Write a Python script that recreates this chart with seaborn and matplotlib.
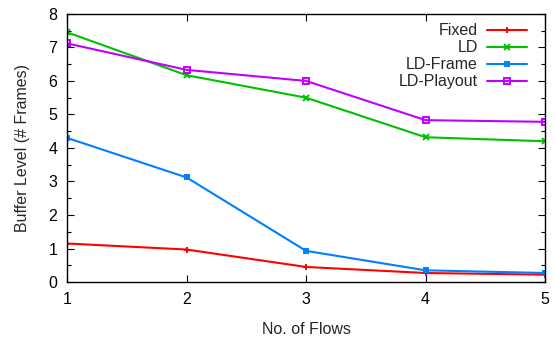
import matplotlib
matplotlib.use("Agg")
import matplotlib.pyplot as plt
from matplotlib.ticker import MultipleLocator
from matplotlib.lines import Line2D
import seaborn as sns
import pandas as pd

flows = [1, 2, 3, 4, 5]
fixed = [1.15, 0.97, 0.45, 0.27, 0.22]
ld = [7.45, 6.17, 5.50, 4.32, 4.20]
ld_frame = [4.30, 3.12, 0.93, 0.35, 0.27]
ld_playout = [7.12, 6.33, 6.00, 4.83, 4.78]
series_names = ["Fixed", "LD", "LD-Frame", "LD-Playout"]

sns.set_theme(style="ticks")
plt.rcParams["font.family"] = ["Liberation Sans", "DejaVu Sans"]

palette = {"Fixed": "#ff0000", "LD": "#00c000", "LD-Frame": "#0080ff", "LD-Playout": "#c000ff"}
markers = {"Fixed": "+", "LD": "x", "LD-Frame": "s", "LD-Playout": "s"}
msizes = {"Fixed": 4, "LD": 4, "LD-Frame": 3.2, "LD-Playout": 4}
faces = {"Fixed": "#ff0000", "LD": "#00c000", "LD-Frame": "#0080ff", "LD-Playout": "none"}
FS = 11.5

fig = plt.figure(figsize=(5.55, 3.39), dpi=100)
ax = fig.add_axes([0.121, 0.168, 0.861, 0.791])

for name, vals in zip(series_names, [fixed, ld, ld_frame, ld_playout]):
    df = pd.DataFrame({"flows": flows, "level": vals})
    sns.lineplot(data=df, x="flows", y="level", color=palette[name],
                 marker=markers[name], markersize=msizes[name],
                 markeredgecolor=palette[name], markerfacecolor=faces[name],
                 markeredgewidth=1.4, linewidth=1.5, ax=ax)

handles = [Line2D([], [], color=palette[n], marker=markers[n], lw=1.5,
                  markersize=msizes[n], markeredgewidth=1.4,
                  markeredgecolor=palette[n], markerfacecolor=faces[n])
           for n in series_names]
ax.legend(handles, series_names, loc="upper right", frameon=False, markerfirst=False,
          fontsize=FS, handlelength=2.5, handletextpad=0.55, labelspacing=0.12,
          borderaxespad=0.2, bbox_to_anchor=(0.982, 1.0))

ax.set_xlim(1, 5)
ax.set_ylim(0, 8)
ax.xaxis.set_major_locator(MultipleLocator(1))
ax.yaxis.set_major_locator(MultipleLocator(1))
ax.yaxis.set_minor_locator(MultipleLocator(0.5))
ax.tick_params(axis="both", which="both", direction="in", top=True, right=True,
               labelsize=FS, colors="black", width=0.8)
ax.tick_params(axis="both", which="major", length=5, pad=7)
ax.tick_params(axis="both", which="minor", length=3)
for s in ax.spines.values():
    s.set_visible(True)
    s.set_color("black")
    s.set_linewidth(1.0)

ax.set_xlabel("No. of Flows", fontsize=FS, labelpad=11)
ax.set_ylabel("Buffer Level (# Frames)", fontsize=FS, labelpad=13)

fig.savefig("out.png", dpi=100)
